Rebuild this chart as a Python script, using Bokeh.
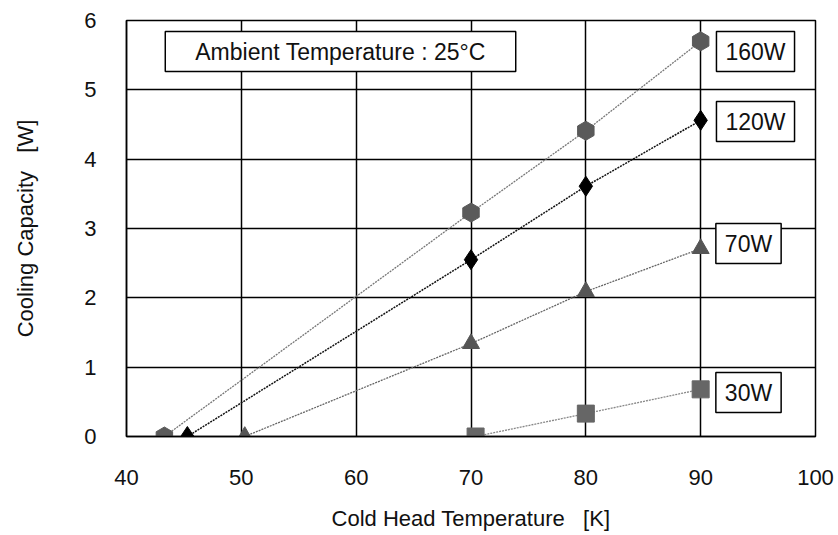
from bokeh.plotting import figure
from bokeh.models import Label, Range1d, FixedTicker
from bokeh.embed import file_html
from bokeh.resources import INLINE

series_names = ["160W", "120W", "70W", "30W"]
x160 = [43.3, 70, 80, 90]
y160 = [0.0, 3.23, 4.41, 5.70]
x120 = [45.3, 70, 80, 90]
y120 = [0.0, 2.55, 3.61, 4.56]
x70 = [50.3, 70, 80, 90]
y70 = [0.0, 1.34, 2.09, 2.71]
x30 = [70.4, 80, 90]
y30 = [0.0, 0.33, 0.68]
x_ticks = [40, 50, 60, 70, 80, 90, 100]
y_ticks = [0, 1, 2, 3, 4, 5, 6]

FONT = "Liberation Sans"
NB = "\u00a0"

p = figure(width=838, height=535, output_backend="svg", toolbar_location=None,
           x_range=Range1d(40, 100), y_range=Range1d(0, 6),
           min_border_left=126, min_border_right=23, min_border_top=20, min_border_bottom=99)

p.outline_line_color = "black"
p.outline_line_width = 1.5
for ax in (p.xaxis[0], p.yaxis[0]):
    ax.axis_line_color = "black"
    ax.axis_line_width = 1.5
    ax.major_tick_line_color = None
    ax.minor_tick_line_color = None
    ax.major_label_text_font = FONT
    ax.major_label_text_font_size = "22px"
    ax.major_label_text_color = "#111111"
    ax.axis_label_text_font = FONT
    ax.axis_label_text_font_size = "22px"
    ax.axis_label_text_font_style = "normal"
    ax.axis_label_text_color = "#111111"

p.xaxis.ticker = FixedTicker(ticks=x_ticks)
p.yaxis.ticker = FixedTicker(ticks=y_ticks)
p.xaxis.axis_label = "Cold Head Temperature" + NB * 3 + "[K]"
p.yaxis.axis_label = "Cooling Capacity" + NB * 3 + "[W]"
p.xaxis.major_label_standoff = 27
p.yaxis.major_label_standoff = 24
p.xaxis.axis_label_standoff = 18
p.yaxis.axis_label_standoff = 43

p.xgrid.grid_line_color = "black"
p.ygrid.grid_line_color = "black"
p.xgrid.grid_line_width = 1.5
p.ygrid.grid_line_width = 1.5
p.xgrid.grid_line_alpha = 1
p.ygrid.grid_line_alpha = 1

# lines
p.line(x160, y160, line_color="#777777", line_width=1.3, line_dash="2 1")
p.line(x120, y120, line_color="#111111", line_width=1.5, line_dash="2 1")
p.line(x70, y70, line_color="#666666", line_width=1.3, line_dash="2 1")
p.line(x30, y30, line_color="#888888", line_width=1.3, line_dash="2 1")

# markers
p.scatter(x160, y160, marker="hex", size=19, fill_color="#5a5a5a", line_color="#5a5a5a", angle=0.5236)
p.scatter(x120, y120, marker="diamond", size=20, fill_color="black", line_color="black")
p.scatter(x70, y70, marker="triangle", size=17, fill_color="#555555", line_color="#555555")
p.scatter(x30, y30, marker="square", size=17, fill_color="#666666", line_color="#666666")

def boxed(text, x, y, padx, pady=7):
    lab = Label(x=x, y=y, x_units="screen", y_units="screen", text=text,
                text_font=FONT, text_font_size="23px", text_color="#111111",
                text_baseline="middle", text_align="center",
                border_line_color="black", border_line_width=1.5,
                background_fill_color="white", background_fill_alpha=1,
                padding=dict(left=padx, right=padx, top=pady, bottom=pady))
    p.add_layout(lab)

# screen coords relative to the frame's bottom-left corner
boxed("Ambient Temperature : 25\u00b0C", 214, 385, 30)
boxed(series_names[0], 629, 385, 9)
boxed(series_names[1], 629, 315, 9)
boxed(series_names[2], 622, 193, 9)
boxed(series_names[3], 622, 44, 9)

open("out.html", "w").write(file_html(p, INLINE))
